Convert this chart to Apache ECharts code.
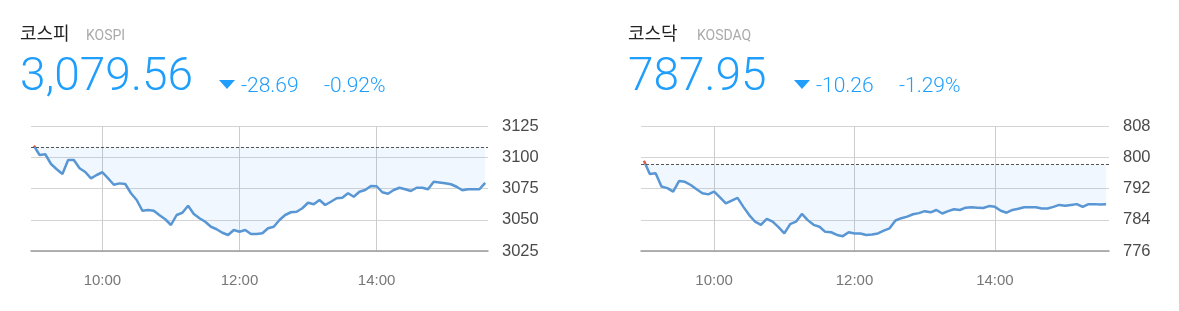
<!DOCTYPE html>
<html>
<head>
<meta charset="utf-8">
<script src="https://cdn.jsdelivr.net/npm/echarts@6/dist/echarts.min.js"></script>
<style>
html,body{margin:0;padding:0;background:#fff;}
#c{width:1179px;height:311px;}
</style>
</head>
<body>
<div id="c"></div>
<script>
// minutes since 09:00
const times = [0,5,10,15,20,25,30,35,40,45,50,55,60,65,70,75,80,85,90,95,100,105,110,115,120,125,130,135,140,145,150,155,160,165,170,175,180,185,190,195,200,205,210,215,220,225,230,235,240,245,250,255,260,265,270,275,280,285,290,295,300,305,310,315,320,325,330,335,340,345,350,355,360,365,370,375,380,385,390,395];
const kospiValues = [3109.2,3101.8,3102.4,3094.6,3090.4,3086.6,3097.8,3097.8,3091.2,3088.2,3083.1,3085.8,3088.0,3083.1,3078.0,3079.1,3078.6,3071.2,3065.8,3057.2,3057.8,3057.2,3053.6,3050.4,3045.8,3053.8,3055.6,3061.2,3054.6,3051.2,3048.4,3044.4,3042.4,3039.6,3037.8,3041.8,3040.4,3041.8,3038.6,3038.6,3039.2,3043.2,3044.4,3049.8,3053.8,3056.0,3056.4,3059.2,3063.6,3062.4,3065.8,3061.8,3064.4,3067.2,3067.6,3071.2,3068.4,3072.4,3073.8,3077.0,3076.8,3072.0,3070.8,3073.8,3075.6,3074.4,3073.0,3075.6,3075.6,3074.4,3080.4,3079.8,3079.2,3078.4,3076.4,3073.6,3074.4,3074.4,3074.4,3079.56];
const kosdaqValues = [799.1,795.7,795.9,792.5,792.1,791.2,793.9,793.7,792.9,791.8,790.8,790.5,791.2,789.7,788.2,788.9,789.6,787.3,785.2,783.5,782.7,784.2,783.5,782.1,780.5,782.9,783.5,785.5,783.9,782.7,782.2,780.9,780.8,780.1,779.8,780.8,780.5,780.5,780.1,780.2,780.5,781.2,781.8,783.8,784.4,784.8,785.4,785.7,786.2,785.9,786.5,785.6,786.2,786.7,786.5,787.1,787.2,787.1,787.0,787.5,787.3,786.3,785.8,786.5,786.8,787.2,787.2,787.2,786.9,786.9,787.3,787.8,787.6,787.8,788.0,787.3,788.0,788.0,787.9,787.95];
const kospiPrevClose = 3108.25;
const kosdaqPrevClose = 798.21;
const timeTicks = [60, 180, 300];
const kospiYTicks = {min: 3025, max: 3125, interval: 25};
const kosdaqYTicks = {min: 776, max: 808, interval: 8};
const headers = [
  {name: '코스피', code: 'KOSPI', price: '3,079.56', change: '-28.69', rate: '-0.92%'},
  {name: '코스닥', code: 'KOSDAQ', price: '787.95', change: '-10.26', rate: '-1.29%'}
];

const BLUE = '#1f9efc';
const LINE = '#5896d4';
const RED = '#e05a47';

function fmt(v){
  const h = 9 + Math.floor(v/60), m = v % 60;
  return h + ':' + (m < 10 ? '0' + m : m);
}
function xAxis(idx){
  return {
    type: 'value', gridIndex: idx, min: -2.5, max: 397.5,
    axisLine: {show: true, lineStyle: {color: '#9a9a9a', width: 1.5}},
    axisTick: {show: false, customValues: timeTicks},
    axisLabel: {customValues: timeTicks, formatter: fmt, color: '#777', fontSize: 15, margin: 22, fontFamily: 'Liberation Sans'},
    splitLine: {show: true, lineStyle: {color: '#cccccc', width: 1}}
  };
}
function yAxis(idx, t){
  return {
    type: 'value', gridIndex: idx, position: 'right', min: t.min, max: t.max, interval: t.interval,
    axisLine: {show: false}, axisTick: {show: false},
    axisLabel: {color: '#4a4a4a', fontSize: 16.5, margin: 14, fontFamily: 'Liberation Sans', formatter: v => String(v)},
    splitLine: {show: true, lineStyle: {color: '#d4d4d4', width: 1}}
  };
}
function series(idx, vals, close){
  return {
    type: 'line', xAxisIndex: idx, yAxisIndex: idx,
    data: times.map((t, i) => [t, vals[i]]),
    showSymbol: false, symbol: 'none', silent: true,
    lineStyle: {width: 2.5},
    areaStyle: {origin: close, color: 'rgba(40,135,235,0.1)'},
    markLine: {
      silent: true, symbol: 'none', label: {show: false},
      lineStyle: {color: '#555', type: [3, 2], width: 1},
      data: [{yAxis: close}]
    },
    z: 3
  };
}
function headerGraphics(h, x0, offs){
  return [
    {type: 'text', left: x0, top: 24, style: {text: h.name, font: '18px "Noto Sans CJK KR"', fill: '#222'}},
    {type: 'text', left: x0 + offs.code, top: 29, style: {text: h.code, font: '14px Roboto', fill: '#aaa'}},
    {type: 'text', left: x0, top: 55, style: {text: h.price, font: '300 46px Roboto', fill: BLUE}},
    {type: 'polygon', shape: {points: [[x0 + offs.tri, 80], [x0 + offs.tri + 16, 80], [x0 + offs.tri + 8, 89]]}, style: {fill: BLUE}},
    {type: 'text', left: x0 + offs.chg, top: 76, style: {text: h.change, font: '300 21px Roboto', fill: BLUE}},
    {type: 'text', left: x0 + offs.rate, top: 76, style: {text: h.rate, font: '300 21px Roboto', fill: BLUE}}
  ];
}

const chart = echarts.init(document.getElementById('c'));
chart.setOption({
  animation: false,
  grid: [
    {left: 31, top: 126, width: 457, height: 125},
    {left: 641, top: 126, width: 468, height: 125}
  ],
  xAxis: [xAxis(0), xAxis(1)],
  yAxis: [yAxis(0, kospiYTicks), yAxis(1, kosdaqYTicks)],
  visualMap: [
    {show: false, type: 'piecewise', seriesIndex: 0, dimension: 1, pieces: [{min: kospiYTicks.min, max: kospiPrevClose, color: LINE}, {min: kospiPrevClose, max: kospiYTicks.max, color: RED}]},
    {show: false, type: 'piecewise', seriesIndex: 1, dimension: 1, pieces: [{min: kosdaqYTicks.min, max: kosdaqPrevClose, color: LINE}, {min: kosdaqPrevClose, max: kosdaqYTicks.max, color: RED}]}
  ],
  series: [series(0, kospiValues, kospiPrevClose), series(1, kosdaqValues, kosdaqPrevClose)],
  graphic: headerGraphics(headers[0], 20, {code: 66, tri: 199, chg: 221, rate: 304})
    .concat(headerGraphics(headers[1], 628, {code: 69, tri: 166, chg: 188, rate: 271}))
});
</script>
</body>
</html>
